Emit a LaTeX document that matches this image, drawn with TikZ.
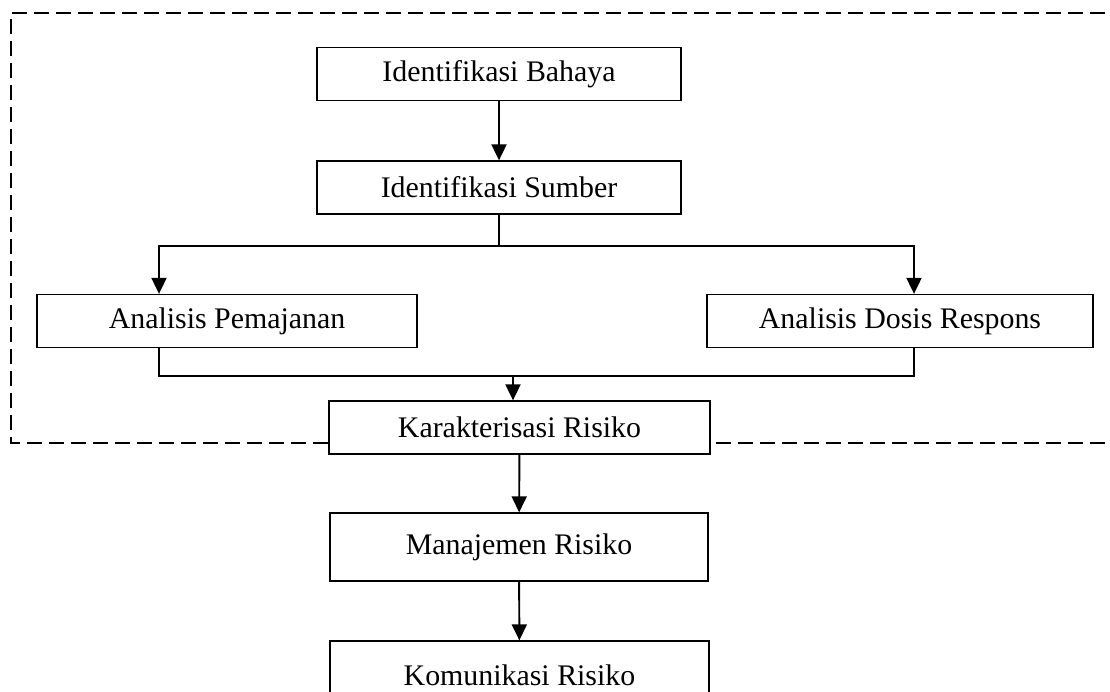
\documentclass[tikz,border=0pt]{standalone}
\usepackage{fontspec}
\setmainfont{Liberation Serif}
\usepackage{tikz}
\usetikzlibrary{positioning, arrows.meta, calc}

\begin{document}
\begin{tikzpicture}[>={Triangle[width=0.3cm,length=0.32cm]}, font=\fontsize{17}{20}\selectfont,
  box/.style={draw, rectangle, line width=0.75pt, minimum height=1.06cm, inner sep=0pt, fill=white},
  flow/.style={line width=1.1pt},
  frame/.style={line width=1.1pt, dash pattern=on 0.3cm off 0.14cm}]
\useasboundingbox (0,0) rectangle (22.2,-13.82);
\node[box, minimum width=7.28cm] (B) at (9.98,-1.48) {Identifikasi Bahaya};
\node[box, minimum width=7.28cm] (S) at (9.98,-3.75) {Identifikasi Sumber};
\node[box, minimum width=7.6cm] (P) at (4.54,-6.42) {Analisis Pemajanan};
\node[box, minimum width=7.72cm] (D) at (18.0,-6.42) {Analisis Dosis Respons};
\node[box, minimum width=7.62cm] (K) at (10.39,-8.55) {Karakterisasi Risiko};
\node[box, minimum width=7.56cm, minimum height=1.36cm] (M) at (10.38,-10.94) {Manajemen Risiko};
\node[box, minimum width=7.58cm, minimum height=1.36cm] (R) at (10.39,-13.5) {Komunikasi Risiko};
% cabang dan gabungan
\coordinate (pl) at (3.18,-4.92); \coordinate (pr) at (18.28,-4.92);
\coordinate (ml) at (3.18,-7.52); \coordinate (mr) at (18.28,-7.52); \coordinate (mk) at (10.26,-7.52);
\draw[flow, ->] (B) -- (S);
\draw[flow] (S.south) -- (S.south |- pl);
\draw[flow, ->] (pl) -- (pr) -- (pr |- D.north);
\draw[flow, ->] (pr -| S.south) -- (pl) -- (pl |- P.north);
\draw[flow] (P.south -| ml) -- (ml) -- (mr) -- (D.south -| mr);
\draw[flow, ->] (mk) -- (mk |- K.north);
\draw[flow, ->] (K) -- (M);
\draw[flow, ->] (M) -- (R);
% batas putus-putus
\draw[frame] (K.west |- 0,-8.86) -- (0.22,-8.86) -- (0.22,-0.26) -- (22.6,-0.26);
\draw[frame] (K.east |- 0,-8.86) ++(0.1,0) -- (22.6,-8.86);
\end{tikzpicture}
\end{document}
